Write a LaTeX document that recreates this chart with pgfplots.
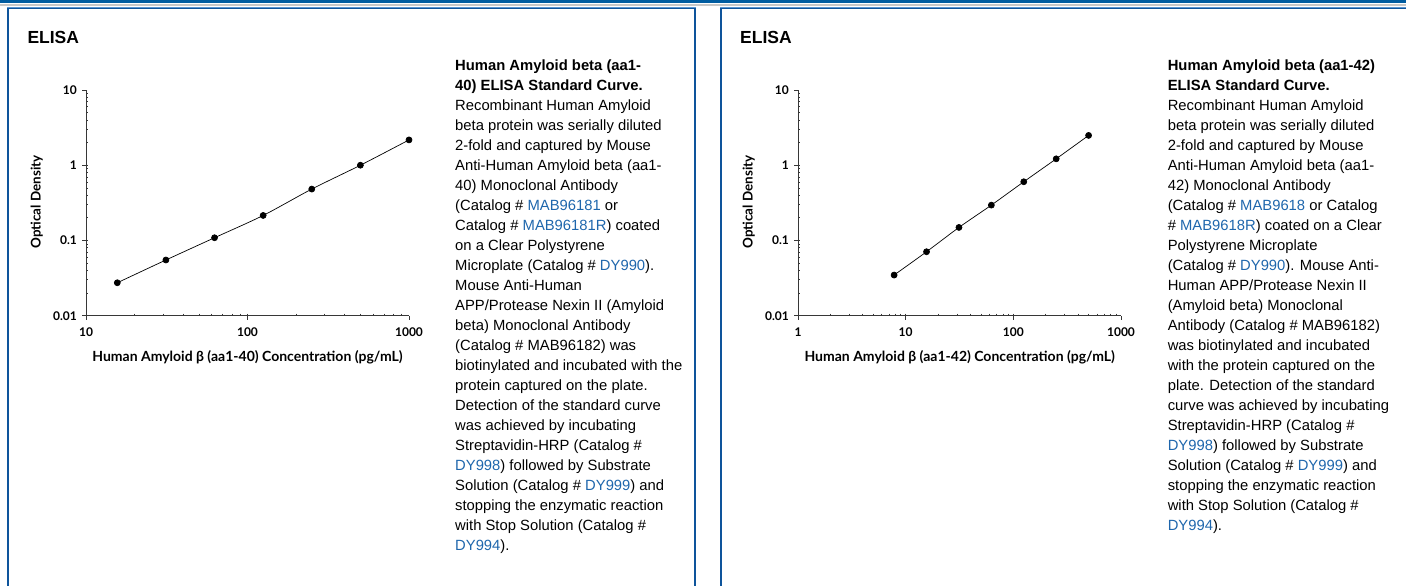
\documentclass[border=0pt]{standalone}
\usepackage{fontspec}
\setmainfont{Liberation Sans}
\newfontfamily\lato{Lato}
\usepackage{pgfplots}
\pgfplotsset{compat=1.18}
\definecolor{barblue}{RGB}{0,92,160}
\definecolor{panelblue}{RGB}{14,84,155}
\definecolor{panellight}{RGB}{90,150,210}
\definecolor{linkblue}{RGB}{30,102,172}
\definecolor{axgray}{RGB}{55,55,55}
\newcommand\lk[1]{\textcolor{linkblue}{#1}}
\newcommand\txt{\fontsize{14.8}{20}\selectfont}
\newcommand\lab{\lato\bfseries\fontsize{14}{16}\selectfont}
\newcommand\ylab{\lato\bfseries\fontsize{13.4}{16}\selectfont}
\newcommand\tlf{\lato\bfseries\fontsize{12}{14}\selectfont}
\newcommand\TL[3]{\node[anchor=base west,inner sep=0pt,font=\txt] at (#1,{515-20*(#2-1)}) {#3};}
\begin{document}
\begin{tikzpicture}
\useasboundingbox (0pt,0pt) rectangle (1406pt,586pt);
\clip (0pt,0pt) rectangle (1406pt,586pt);
\begin{scope}[x=1pt,y=1pt]
% top bars
\fill[barblue] (0,583.3) rectangle (1406,586);
\fill[black!22] (0,580.3) rectangle (1406,582);
% panels
\draw[panelblue, line width=2pt] (8,-5) -- (8,577.5) -- (694.5,577.5) -- (694.5,-5);
\draw[panellight, line width=0.8pt] (7,578.6) -- (695.5,578.6);
\draw[panelblue, line width=2pt] (721,-5) -- (721,577.5) -- (1420,577.5);
\draw[panellight, line width=0.8pt] (720,578.6) -- (1420,578.6);
% titles
\node[anchor=base west, inner sep=0pt, font=\bfseries\fontsize{17.5}{20}\selectfont] at (27.3,542) {ELISA};
\node[anchor=base west, inner sep=0pt, font=\bfseries\fontsize{17.5}{20}\selectfont] at (740,542) {ELISA};
\node[anchor=base, inner sep=0pt, font=\lab] at (247.5,224.8) {Human Amyloid β (aa1-40) Concentration (pg/mL)};
\node[anchor=base, rotate=90, inner sep=0pt, font=\ylab] at (40.5,384) {Optical Density};
\node[anchor=base, inner sep=0pt, font=\lab] at (959.7,224.8) {Human Amyloid β (aa1-42) Concentration (pg/mL)};
\node[anchor=base, rotate=90, inner sep=0pt, font=\ylab] at (752.5,384) {Optical Density};

% left text
\TL{455}{1}{\bfseries Human Amyloid beta (aa1-}
\TL{455}{2}{\bfseries 40) ELISA Standard Curve.}
\TL{455}{3}{Recombinant Human Amyloid}
\TL{455}{4}{beta protein was serially diluted}
\TL{455}{5}{2-fold and captured by Mouse}
\TL{455}{6}{Anti-Human Amyloid beta (aa1-}
\TL{455}{7}{40) Monoclonal Antibody}
\TL{455}{8}{(Catalog \# \lk{MAB96181} or}
\TL{455}{9}{Catalog \# \lk{MAB96181R}) coated}
\TL{455}{10}{on a Clear Polystyrene}
\TL{455}{11}{Microplate (Catalog \# \lk{DY990}).}
\TL{455}{12}{Mouse Anti-Human}
\TL{455}{13}{APP/Protease Nexin II (Amyloid}
\TL{455}{14}{beta) Monoclonal Antibody}
\TL{455}{15}{(Catalog \# MAB96182) was}
\TL{455}{16}{biotinylated and incubated with the}
\TL{455}{17}{protein captured on the plate.}
\TL{455}{18}{Detection of the standard curve}
\TL{455}{19}{was achieved by incubating}
\TL{455}{20}{Streptavidin-HRP (Catalog \#}
\TL{455}{21}{\lk{DY998}) followed by Substrate}
\TL{455}{22}{Solution (Catalog \# \lk{DY999}) and}
\TL{455}{23}{stopping the enzymatic reaction}
\TL{455}{24}{with Stop Solution (Catalog \#}
\TL{455}{25}{\lk{DY994}).}

% right text
\TL{1167.6}{1}{\bfseries Human Amyloid beta (aa1-42)}
\TL{1167.6}{2}{\bfseries ELISA Standard Curve.}
\TL{1167.6}{3}{Recombinant Human Amyloid}
\TL{1167.6}{4}{beta protein was serially diluted}
\TL{1167.6}{5}{2-fold and captured by Mouse}
\TL{1167.6}{6}{Anti-Human Amyloid beta (aa1-}
\TL{1167.6}{7}{42) Monoclonal Antibody}
\TL{1167.6}{8}{(Catalog \# \lk{MAB9618} or Catalog}
\TL{1167.6}{9}{\# \lk{MAB9618R}) coated on a Clear}
\TL{1167.6}{10}{Polystyrene Microplate}
\TL{1167.6}{11}{(Catalog \# \lk{DY990}). Mouse Anti-}
\TL{1167.6}{12}{Human APP/Protease Nexin II}
\TL{1167.6}{13}{(Amyloid beta) Monoclonal}
\TL{1167.6}{14}{Antibody (Catalog \# MAB96182)}
\TL{1167.6}{15}{was biotinylated and incubated}
\TL{1167.6}{16}{with the protein captured on the}
\TL{1167.6}{17}{plate. Detection of the standard}
\TL{1167.6}{18}{curve was achieved by incubating}
\TL{1167.6}{19}{Streptavidin-HRP (Catalog \#}
\TL{1167.6}{20}{\lk{DY998}) followed by Substrate}
\TL{1167.6}{21}{Solution (Catalog \# \lk{DY999}) and}
\TL{1167.6}{22}{stopping the enzymatic reaction}
\TL{1167.6}{23}{with Stop Solution (Catalog \#}
\TL{1167.6}{24}{\lk{DY994}).}
\end{scope}

% left axis
\begin{axis}[at={(86pt,270.3pt)}, anchor=south west,
  scale only axis, width=323pt, height=225.7pt,
  xmode=log, ymode=log, ymin=0.01, ymax=10,
  xmin=10, xmax=1000, xtick={10,100,1000}, xticklabels={10,100,1000},
  ytick={0.01,0.1,1,10}, yticklabels={0.01,0.1,1,10},
  axis lines=left, axis line style={-, axgray, line width=0.9pt},
  tick align=outside, major tick length=4pt, minor tick length=-2pt,
  tick style={axgray, line width=0.7pt},
  tick label style={font=\tlf, inner sep=0pt},
  yticklabel style={anchor=east, xshift=-5pt},
  xticklabel style={anchor=north, yshift=-8pt},
  clip=false]
\addplot[black, line width=0.7pt, smooth, mark=*, mark size=3pt, mark options={fill=black, draw=black}]
coordinates {(15.625,0.0274)(31.25,0.055)(62.5,0.1087)(125,0.215)(250,0.482)(500,1.0)(1000,2.17)};
\end{axis}

% right axis
\begin{axis}[at={(798pt,270.3pt)}, anchor=south west,
  scale only axis, width=323pt, height=225.7pt,
  xmode=log, ymode=log, ymin=0.01, ymax=10,
  xmin=1, xmax=1000, xtick={1,10,100,1000}, xticklabels={1,10,100,1000},
  ytick={0.01,0.1,1,10}, yticklabels={0.01,0.1,1,10},
  axis lines=left, axis line style={-, axgray, line width=0.9pt},
  tick align=outside, major tick length=4pt, minor tick length=-2pt,
  tick style={axgray, line width=0.7pt},
  tick label style={font=\tlf, inner sep=0pt},
  yticklabel style={anchor=east, xshift=-5pt},
  xticklabel style={anchor=north, yshift=-8pt},
  clip=false]
\addplot[black, line width=0.7pt, smooth, mark=*, mark size=3pt, mark options={fill=black, draw=black}]
coordinates {(7.8125,0.0347)(15.625,0.0708)(31.25,0.149)(62.5,0.295)(125,0.603)(250,1.216)(500,2.49)};
\end{axis}
\end{tikzpicture}
\end{document}
